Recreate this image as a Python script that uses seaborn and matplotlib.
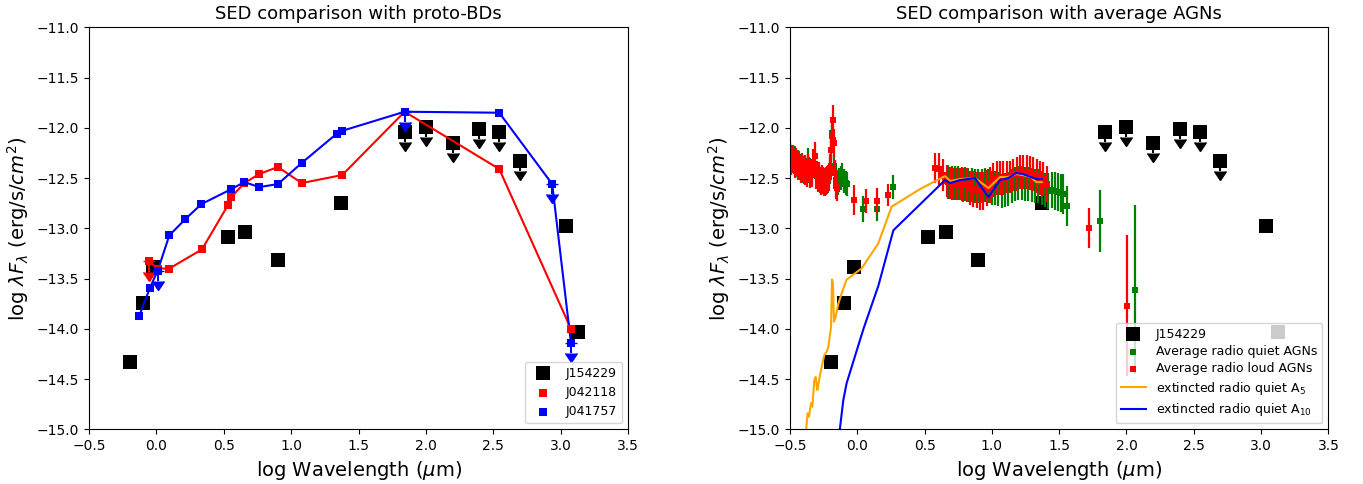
import matplotlib
matplotlib.use("Agg")
import matplotlib.pyplot as plt
import numpy as np
import pandas as pd
import seaborn as sns

# ---------------- J154229 photometry ----------------
j154229_logw = [-0.196, -0.100, -0.025, 0.529, 0.657, 0.900, 1.370,
                1.844, 2.000, 2.200, 2.395, 2.544, 2.697, 3.040, 3.125]
j154229_logf = [-14.33, -13.74, -13.39, -13.09, -13.04, -13.32, -12.75,
                -12.04, -11.99, -12.15, -12.01, -12.045, -12.33, -12.98, -14.03]
j154229_uplim = [False] * 7 + [True] * 6 + [False] * 2

# ---------------- proto brown dwarfs ----------------
j042118_logw = [-0.055, 0.010, 0.096, 0.338, 0.531, 0.556, 0.652, 0.763,
                0.902, 1.078, 1.379, 1.842, 2.544, 3.076]
j042118_logf = [-13.33, -13.40, -13.40, -13.21, -12.77, -12.69, -12.55, -12.46,
                -12.39, -12.55, -12.47, -11.84, -12.41, -14.00]
j042118_uplim = [True] + [False] * 13

j041757_logw = [-0.127, -0.047, 0.010, 0.096, 0.214, 0.333, 0.556, 0.652,
                0.763, 0.902, 1.078, 1.337, 1.379, 1.842, 2.544, 2.937, 3.076]
j041757_logf = [-13.87, -13.59, -13.42, -13.07, -12.91, -12.76, -12.61, -12.54,
                -12.59, -12.56, -12.35, -12.06, -12.03, -11.84, -11.85, -12.56, -14.14]
j041757_uplim = [False, False, True] + [False] * 10 + [True, False, True, True]

# ---------------- average AGN SEDs ----------------
# radio quiet
rq_uv_logw = [-0.497, -0.485, -0.472, -0.460, -0.449, -0.437, -0.425, -0.414,
              -0.403, -0.391, -0.380, -0.369, -0.357, -0.346, -0.334, -0.322,
              -0.311, -0.300, -0.288, -0.276, -0.265, -0.253, -0.241, -0.230,
              -0.218, -0.206, -0.195, -0.186, -0.179, -0.170, -0.158, -0.146,
              -0.134, -0.122, -0.110, -0.098, -0.086, -0.076]
rq_uv_logf = [-12.27, -12.30, -12.33, -12.31, -12.36, -12.35, -12.39, -12.38,
              -12.42, -12.40, -12.43, -12.33, -12.42, -12.45, -12.44, -12.37,
              -12.36, -12.48, -12.51, -12.52, -12.53, -12.52, -12.55, -12.53,
              -12.52, -12.43, -12.22, -12.05, -12.12, -12.38, -12.52, -12.55,
              -12.52, -12.50, -12.47, -12.53, -12.55, -12.56]
rq_uv_err = [0.13] * 26 + [0.10, 0.08, 0.08, 0.10] + [0.12] * 8

rq_nir_logw = [0.040, 0.150, 0.268]
rq_nir_logf = [-12.81, -12.81, -12.59]
rq_nir_err = [0.13, 0.12, 0.12]

rq_mir_logw = [0.676, 0.700, 0.725, 0.750, 0.775, 0.799, 0.824, 0.849, 0.874,
               0.899, 0.923, 0.948, 0.973, 0.998, 1.022, 1.047, 1.072, 1.097,
               1.121, 1.146, 1.171, 1.196, 1.220, 1.245, 1.270, 1.295, 1.319,
               1.344, 1.369, 1.394, 1.418, 1.443, 1.468, 1.493, 1.510, 1.530, 1.555]
rq_mir_logf = [-12.54, -12.55, -12.55, -12.55, -12.56, -12.56, -12.57, -12.57,
               -12.58, -12.58, -12.58, -12.57, -12.58, -12.60, -12.60, -12.61,
               -12.63, -12.62, -12.61, -12.58, -12.56, -12.55, -12.55, -12.56,
               -12.56, -12.57, -12.58, -12.58, -12.60, -12.62, -12.63, -12.62,
               -12.63, -12.64, -12.65, -12.66, -12.78]
rq_mir_err = [0.17] * 30 + [0.18, 0.18, 0.19, 0.19, 0.19, 0.20, 0.20]

rq_fir_logw = [1.800, 2.066]
rq_fir_logf = [-12.93, -13.61]
rq_fir_err = [0.31, 0.84]

# radio loud
rl_uv_logw = [-0.500, -0.489, -0.477, -0.466, -0.455, -0.443, -0.431, -0.420,
              -0.409, -0.397, -0.386, -0.374, -0.363, -0.351, -0.340, -0.328,
              -0.315, -0.305, -0.294, -0.282, -0.270, -0.259, -0.247, -0.236,
              -0.224, -0.212, -0.201, -0.192, -0.186, -0.181, -0.176, -0.168,
              -0.160, -0.152]
rl_uv_logf = [-12.30, -12.33, -12.31, -12.36, -12.34, -12.38, -12.37, -12.41,
              -12.40, -12.42, -12.43, -12.45, -12.40, -12.46, -12.45, -12.35,
              -12.28, -12.47, -12.50, -12.48, -12.53, -12.51, -12.54, -12.53,
              -12.52, -12.49, -12.40, -12.22, -12.08, -11.92, -12.15, -12.45,
              -12.58, -12.60]
rl_uv_err = [0.14] * 27 + [0.14, 0.15, 0.15, 0.14, 0.13, 0.13, 0.13]

rl_nir_logw = [-0.022, 0.065, 0.147, 0.230]
rl_nir_logf = [-12.72, -12.73, -12.73, -12.67]
rl_nir_err = [0.15, 0.12, 0.13, 0.11]

rl_mir_logw = [0.577, 0.609, 0.639, 0.664, 0.688, 0.713, 0.738, 0.763, 0.787,
               0.812, 0.837, 0.862, 0.887, 0.911, 0.936, 0.961, 0.986, 1.010,
               1.035, 1.060, 1.085, 1.109, 1.134, 1.159, 1.184, 1.208, 1.233,
               1.258, 1.283, 1.307, 1.332, 1.357, 1.382, 1.406]
rl_mir_logf = [-12.40, -12.41, -12.47, -12.53, -12.55, -12.56, -12.56, -12.56,
               -12.57, -12.57, -12.60, -12.61, -12.62, -12.63, -12.63, -12.60,
               -12.57, -12.52, -12.50, -12.50, -12.50, -12.49, -12.49, -12.47,
               -12.46, -12.44, -12.44, -12.44, -12.45, -12.46, -12.48, -12.50,
               -12.51, -12.56]
rl_mir_err = [0.15, 0.16, 0.16, 0.16, 0.16, 0.16, 0.16, 0.16, 0.17, 0.17, 0.17,
              0.18, 0.18, 0.19, 0.19, 0.18, 0.18, 0.17, 0.17, 0.17, 0.17, 0.16,
              0.16, 0.16, 0.17, 0.17, 0.17, 0.17, 0.17, 0.17, 0.17, 0.17, 0.17, 0.18]

rl_fir_logw = [1.724, 2.007]
rl_fir_logf = [-13.00, -13.77]
rl_fir_err = [0.20, 0.70]

# extincted radio-quiet templates
a5_logw = [-0.385, -0.369, -0.359, -0.344, -0.334, -0.319, -0.309, -0.297,
           -0.290, -0.277, -0.245, -0.228, -0.215, -0.195, -0.188, -0.181,
           -0.173, -0.161, -0.141, -0.104, -0.079, 0.032, 0.156, 0.255, 0.466,
           0.652, 0.690, 0.764, 0.875, 0.974, 1.060, 1.122, 1.180, 1.230,
           1.290, 1.330, 1.370]
a5_logf = [-15.08, -14.84, -14.875, -14.74, -14.775, -14.51, -14.48, -14.61,
           -14.56, -14.46, -14.26, -14.23, -14.18, -13.98, -13.51, -13.55,
           -13.93, -13.88, -13.75, -13.60, -13.51, -13.40, -13.15, -12.785, -12.61,
           -12.48, -12.53, -12.51, -12.50, -12.60, -12.49, -12.49, -12.46, -12.47,
           -12.49, -12.54, -12.54]

a10_logw = [-0.135, -0.104, -0.079, 0.046, 0.157, 0.268, 0.652, 0.690, 0.764,
            0.875, 0.974, 1.060, 1.122, 1.180, 1.230, 1.290, 1.330, 1.370]
a10_logf = [-15.06, -14.71, -14.54, -14.00, -13.57, -13.02, -12.52, -12.55,
            -12.52, -12.50, -12.69, -12.52, -12.50, -12.45, -12.46, -12.49,
            -12.51, -12.51]

x_ticks = [-0.5, 0.0, 0.5, 1.0, 1.5, 2.0, 2.5, 3.0, 3.5]
y_ticks = [-15.0, -14.5, -14.0, -13.5, -13.0, -12.5, -12.0, -11.5, -11.0]

XLABEL = r"log Wavelength ($\mu$m)"
YLABEL = r"log $\lambda F_{\lambda}$ (erg/s/$cm^2$)"

plt.rcParams.update({
    "font.family": ["DejaVu Sans"],
    "xtick.labelsize": 10,
    "ytick.labelsize": 10,
    "axes.titlesize": 13,
    "axes.labelsize": 14,
    "legend.fontsize": 9,
})

fig = plt.figure(figsize=(13.63, 4.84), dpi=100)
ax1 = fig.add_axes([0.0653, 0.1130, 0.3955, 0.8306])
ax2 = fig.add_axes([0.5796, 0.1130, 0.3950, 0.8306])

src = pd.DataFrame({"logw": j154229_logw, "logf": j154229_logf, "ul": j154229_uplim})
src_ul = src[src["ul"]]


def upper_limits(ax, df, col, z):
    ax.errorbar(df["logw"], df["logf"], yerr=0.10, uplims=True, fmt="none",
                color=col, ecolor=col, elinewidth=1.5, capsize=4.2, zorder=z)


def draw_source(ax):
    sns.scatterplot(data=src, x="logw", y="logf", marker="s", s=95,
                    color="black", linewidth=0, label="J154229", zorder=1,
                    ax=ax, legend=False)
    upper_limits(ax, src_ul, "black", 1.5)


def style_axes(ax, title):
    ax.set_xlim(-0.5, 3.5)
    ax.set_ylim(-15.0, -11.0)
    ax.set_xticks(x_ticks)
    ax.set_yticks(y_ticks)
    ax.set_xlabel(XLABEL)
    ax.set_ylabel(YLABEL)
    ax.set_title(title)


# ---------------- left panel: proto-BDs ----------------
draw_source(ax1)
for name, lw_, lf_, ul_, col in [("J042118", j042118_logw, j042118_logf, j042118_uplim, "red"),
                                 ("J041757", j041757_logw, j041757_logf, j041757_uplim, "blue")]:
    df = pd.DataFrame({"logw": lw_, "logf": lf_, "ul": ul_})
    sns.lineplot(data=df, x="logw", y="logf", sort=False, estimator=None,
                 color=col, linewidth=1.5, ax=ax1, legend=False, zorder=2)
    sns.scatterplot(data=df, x="logw", y="logf", marker="s", s=38, color=col,
                    linewidth=0, label=name, ax=ax1, legend=False, zorder=2.1)
    upper_limits(ax1, df[df["ul"]], col, 2.1)

style_axes(ax1, "SED comparison with proto-BDs")
h, l = ax1.get_legend_handles_labels()
order = ["J154229", "J042118", "J041757"]
ax1.legend([h[l.index(k)] for k in order], order, loc="lower right",
           scatterpoints=1)

# ---------------- right panel: average AGNs ----------------
draw_source(ax2)

rq = pd.DataFrame({
    "logw": rq_uv_logw + rq_nir_logw + rq_mir_logw + rq_fir_logw,
    "logf": rq_uv_logf + rq_nir_logf + rq_mir_logf + rq_fir_logf,
    "err": rq_uv_err + rq_nir_err + rq_mir_err + rq_fir_err,
})
rl = pd.DataFrame({
    "logw": rl_uv_logw + rl_nir_logw + rl_mir_logw + rl_fir_logw,
    "logf": rl_uv_logf + rl_nir_logf + rl_mir_logf + rl_fir_logf,
    "err": rl_uv_err + rl_nir_err + rl_mir_err + rl_fir_err,
})
for df, col, name, z in [(rq, "green", "Average radio quiet AGNs", 2.0),
                         (rl, "red", "Average radio loud AGNs", 2.1)]:
    ax2.errorbar(df["logw"], df["logf"], yerr=df["err"], fmt="none",
                 ecolor=col, elinewidth=1.6, zorder=z)
    sns.scatterplot(data=df, x="logw", y="logf", marker="s", s=19, color=col,
                    linewidth=0, label=name, ax=ax2, legend=False, zorder=z + 0.05)

a5 = pd.DataFrame({"logw": a5_logw, "logf": a5_logf})
a10 = pd.DataFrame({"logw": a10_logw, "logf": a10_logf})
sns.lineplot(data=a5, x="logw", y="logf", sort=False, estimator=None,
             color="orange", linewidth=1.5, ax=ax2, legend=False, zorder=2.2,
             label=r"extincted radio quiet A$_5$")
sns.lineplot(data=a10, x="logw", y="logf", sort=False, estimator=None,
             color="blue", linewidth=1.5, ax=ax2, legend=False, zorder=2.3,
             label=r"extincted radio quiet A$_{10}$")

style_axes(ax2, "SED comparison with average AGNs")
h, l = ax2.get_legend_handles_labels()
order = ["J154229", "Average radio quiet AGNs", "Average radio loud AGNs",
         r"extincted radio quiet A$_5$", r"extincted radio quiet A$_{10}$"]
ax2.legend([h[l.index(k)] for k in order], order, loc="lower right",
           scatterpoints=1, labelspacing=0.35)

fig.savefig("out.png", dpi=100)
